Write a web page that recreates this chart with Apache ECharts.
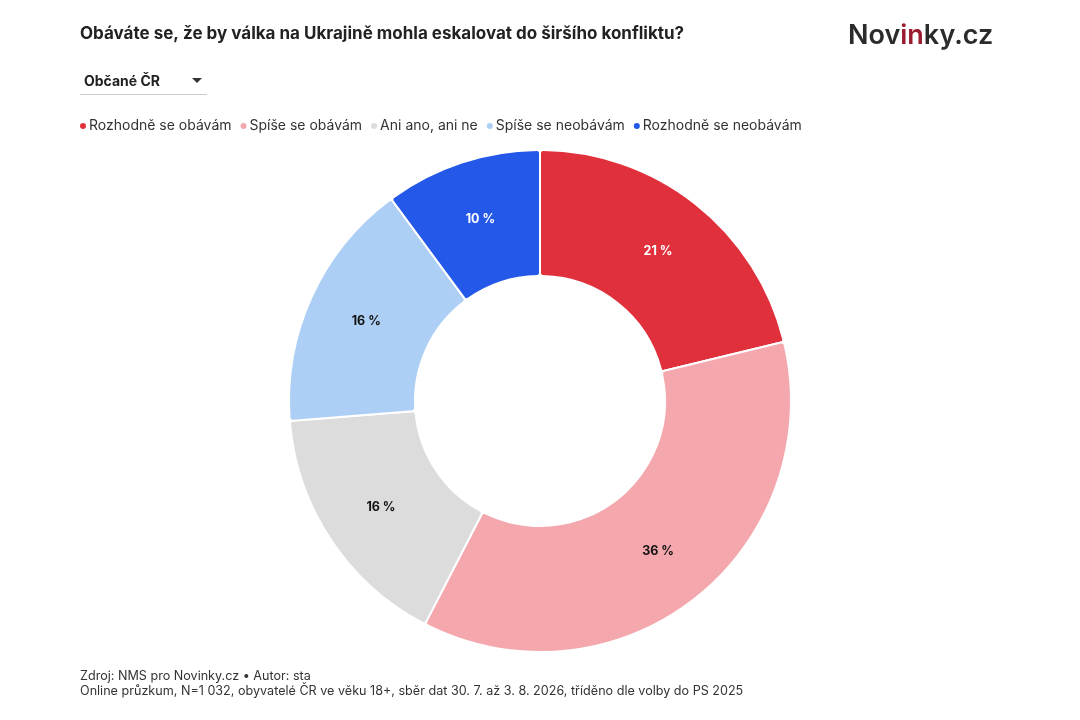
<!DOCTYPE html>
<html lang="cs">

<head>
  <meta charset="UTF-8">
  <title>Obáváte se eskalace</title>
  <style>
    html, body { margin: 0; padding: 0; background: #fff; }
    #chart { width: 1080px; height: 720px; }
  </style>
</head>

<body>
  <div id="chart"></div>

  <script src="https://cdn.jsdelivr.net/npm/echarts@6/dist/echarts.min.js"></script>
  <script>
    // data
    var categories = ['Rozhodně se obávám', 'Spíše se obávám', 'Ani ano, ani ne', 'Spíše se neobávám', 'Rozhodně se neobávám'];
    var values = [21, 36, 16, 16, 10];

    var colors = ['#E0303C', '#F4A8AD', '#DCDCDC', '#ADCFF5', '#2358E8'];
    var labelColors = ['#fff', '#111', '#111', '#111', '#fff'];
    var font = 'Inter, "Noto Sans", sans-serif';

    var chart = echarts.init(document.getElementById('chart'));

    var pieData = categories.map(function (name, i) {
      return {
        name: name,
        value: values[i],
        label: { color: labelColors[i] }
      };
    });

    var option = {
      color: colors,
      animation: false,
      textStyle: { fontFamily: font },
      title: [
        {
          text: 'Obáváte se, že by válka na Ukrajině mohla eskalovat do širšího konfliktu?',
          left: 75,
          top: 20,
          textStyle: { fontSize: 17, fontWeight: 'bold', color: '#222', fontFamily: font }
        },
        {
          text: 'Občané ČR',
          left: 79,
          top: 70,
          textStyle: { fontSize: 14, fontWeight: 'bold', color: '#222', fontFamily: font }
        },
        {
          text: 'Nov{r|in}ky.cz',
          left: 843,
          top: 17,
          textStyle: {
            fontSize: 27, fontWeight: 600, color: '#2b2b2b', fontFamily: font,
            rich: { r: { fontSize: 27, fontWeight: 600, color: '#9B1B2E', fontFamily: font } }
          }
        },
        {
          text: 'Zdroj: NMS pro Novinky.cz • Autor: sta\nOnline průzkum, N=1 032, obyvatelé ČR ve věku 18+, sběr dat 30. 7. až 3. 8. 2026, tříděno dle volby do PS 2025',
          left: 75,
          top: 663,
          textStyle: { fontSize: 12.6, fontWeight: 'normal', color: '#333', lineHeight: 15.5, fontFamily: font }
        }
      ],
      graphic: [
        {
          type: 'line',
          shape: { x1: 80, y1: 94.5, x2: 207, y2: 94.5 },
          style: { stroke: '#ccc', lineWidth: 1 }
        },
        {
          type: 'polygon',
          shape: { points: [[192, 78], [202, 78], [197, 83]] },
          style: { fill: '#333' }
        }
      ],
      legend: {
        left: 73,
        top: 114,
        icon: 'circle',
        itemWidth: 8,
        itemHeight: 8,
        itemGap: 7,
        textStyle: { fontSize: 14, color: '#333', padding: [0, 0, 0, -3] },
        data: categories
      },
      series: [
        {
          type: 'pie',
          center: [540, 401],
          radius: [125, 251],
          startAngle: 90,
          clockwise: true,
          avoidLabelOverlap: false,
          itemStyle: { borderColor: '#fff', borderWidth: 2, borderRadius: 3 },
          label: {
            show: true,
            position: 'inside',
            formatter: '{c} %',
            fontSize: 12.5,
            fontWeight: 'bold'
          },
          labelLine: { show: false },
          emphasis: { scale: false },
          data: pieData
        }
      ]
    };

    chart.setOption(option);
  </script>
</body>

</html>
